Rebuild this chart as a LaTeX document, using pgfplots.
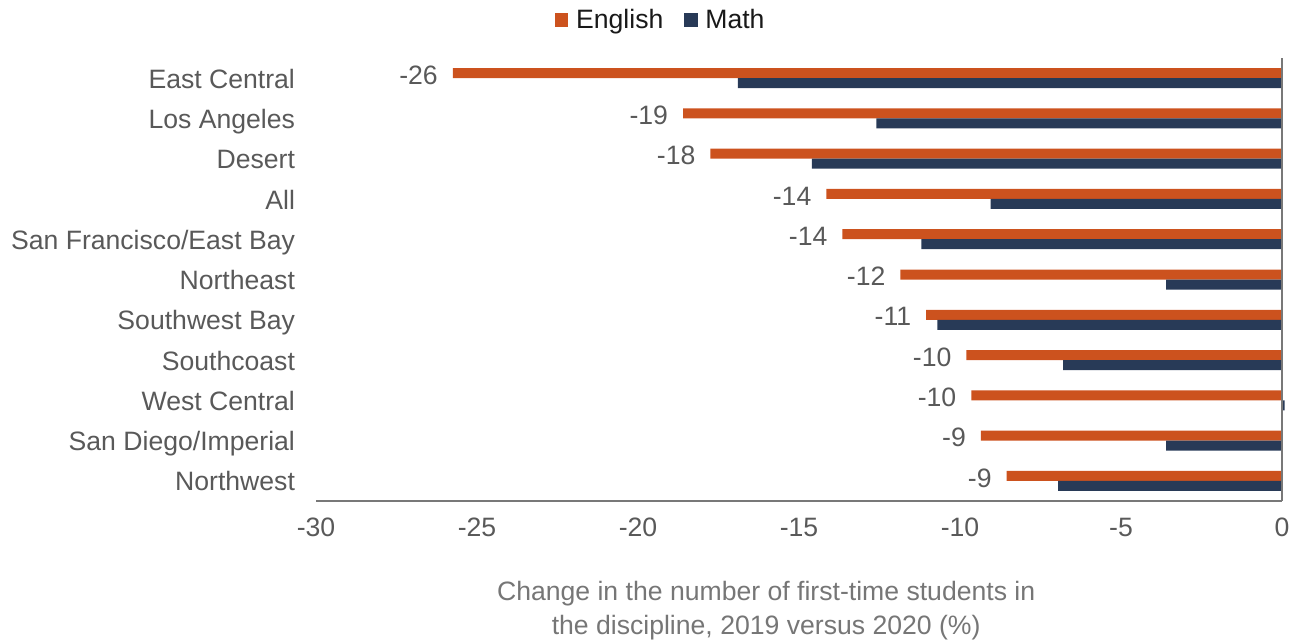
\documentclass[border=0pt]{standalone}
\usepackage{pgfplots}
\pgfplotsset{compat=1.18}
\usepackage{pgfplotstable}
\usepackage{fontspec}
\setmainfont{Liberation Sans}
\definecolor{eng}{RGB}{204,82,30}
\definecolor{mth}{RGB}{40,58,87}
\definecolor{txt}{RGB}{89,89,89}
\definecolor{xlab}{RGB}{118,118,118}
\definecolor{axl}{RGB}{120,120,120}
\pgfplotstableread{
y eng math lab
0 -8.55 -6.95 -9
1 -9.35 -3.6 -9
2 -9.65 0.08 -10
3 -9.8 -6.8 -10
4 -11.05 -10.7 -11
5 -11.85 -3.6 -12
6 -13.65 -11.2 -14
7 -14.15 -9.05 -14
8 -17.75 -14.6 -18
9 -18.6 -12.6 -19
10 -25.75 -16.9 -26
}\datatable
\begin{document}
\begin{tikzpicture}[font=\fontsize{13.3pt}{17pt}\selectfont]
\path[use as bounding box] (0,0) rectangle (649.5pt,-321.5pt);
\begin{axis}[
 at={(158pt,-250.5pt)}, anchor=south west,
 scale only axis, width=483pt, height=221.5pt,
 xmin=-30, xmax=0, ymin=-0.5, ymax=10.5,
 xbar, bar width=5pt, clip=false,
 xtick={-30,-25,...,0},
 ytick={0,...,10},
 yticklabels={Northwest, San Diego/Imperial, West Central, Southcoast, Southwest Bay, Northeast, San Francisco/East Bay, All, Desert, Los Angeles, East Central},
 axis line style={draw=none},
 major tick length=0pt,
 tick label style={text=txt},
 xticklabel style={yshift=-5pt},
 yticklabel style={xshift=-7pt, text height=0.72em, text depth=0.21em, yshift=-2.5pt},
 /pgf/number format/assume math mode=true,
 xlabel={Change in the number of first-time students in\\the discipline, 2019 versus 2020 (\%)},
 xlabel style={align=center, text=xlab, at={(axis description cs:0.466,0)}, anchor=center, yshift=-55pt},
 legend style={at={(0.358,1.086)}, anchor=center, draw=none, fill=none, text=black!90, legend columns=2, /tikz/every even column/.append style={column sep=8.5pt}},
]
\addplot[fill=eng, draw=none, bar shift=2.5pt, nodes near coords, point meta=explicit symbolic,
  nodes near coords style={text=txt, anchor=east, xshift=-4pt, yshift=-1pt},
  legend image code/.code={\fill[eng] (0pt,-3.3pt) rectangle (6.6pt,3.3pt); \path (8.5pt,0pt);}]
  table[x=eng, y=y, meta=lab] {\datatable};
\addlegendentry{English}
\addplot[fill=mth, draw=none, bar shift=-2.5pt,
  legend image code/.code={\fill[mth] (0pt,-3.3pt) rectangle (6.6pt,3.3pt); \path (8.5pt,0pt);}]
  table[x=math, y=y] {\datatable};
\addlegendentry{Math}
\draw[axl, line width=1pt] (rel axis cs:0,0) -- (rel axis cs:1,0);
\draw[axl, line width=1pt] (rel axis cs:1,0) -- (rel axis cs:1,1);
\end{axis}
\end{tikzpicture}
\end{document}
